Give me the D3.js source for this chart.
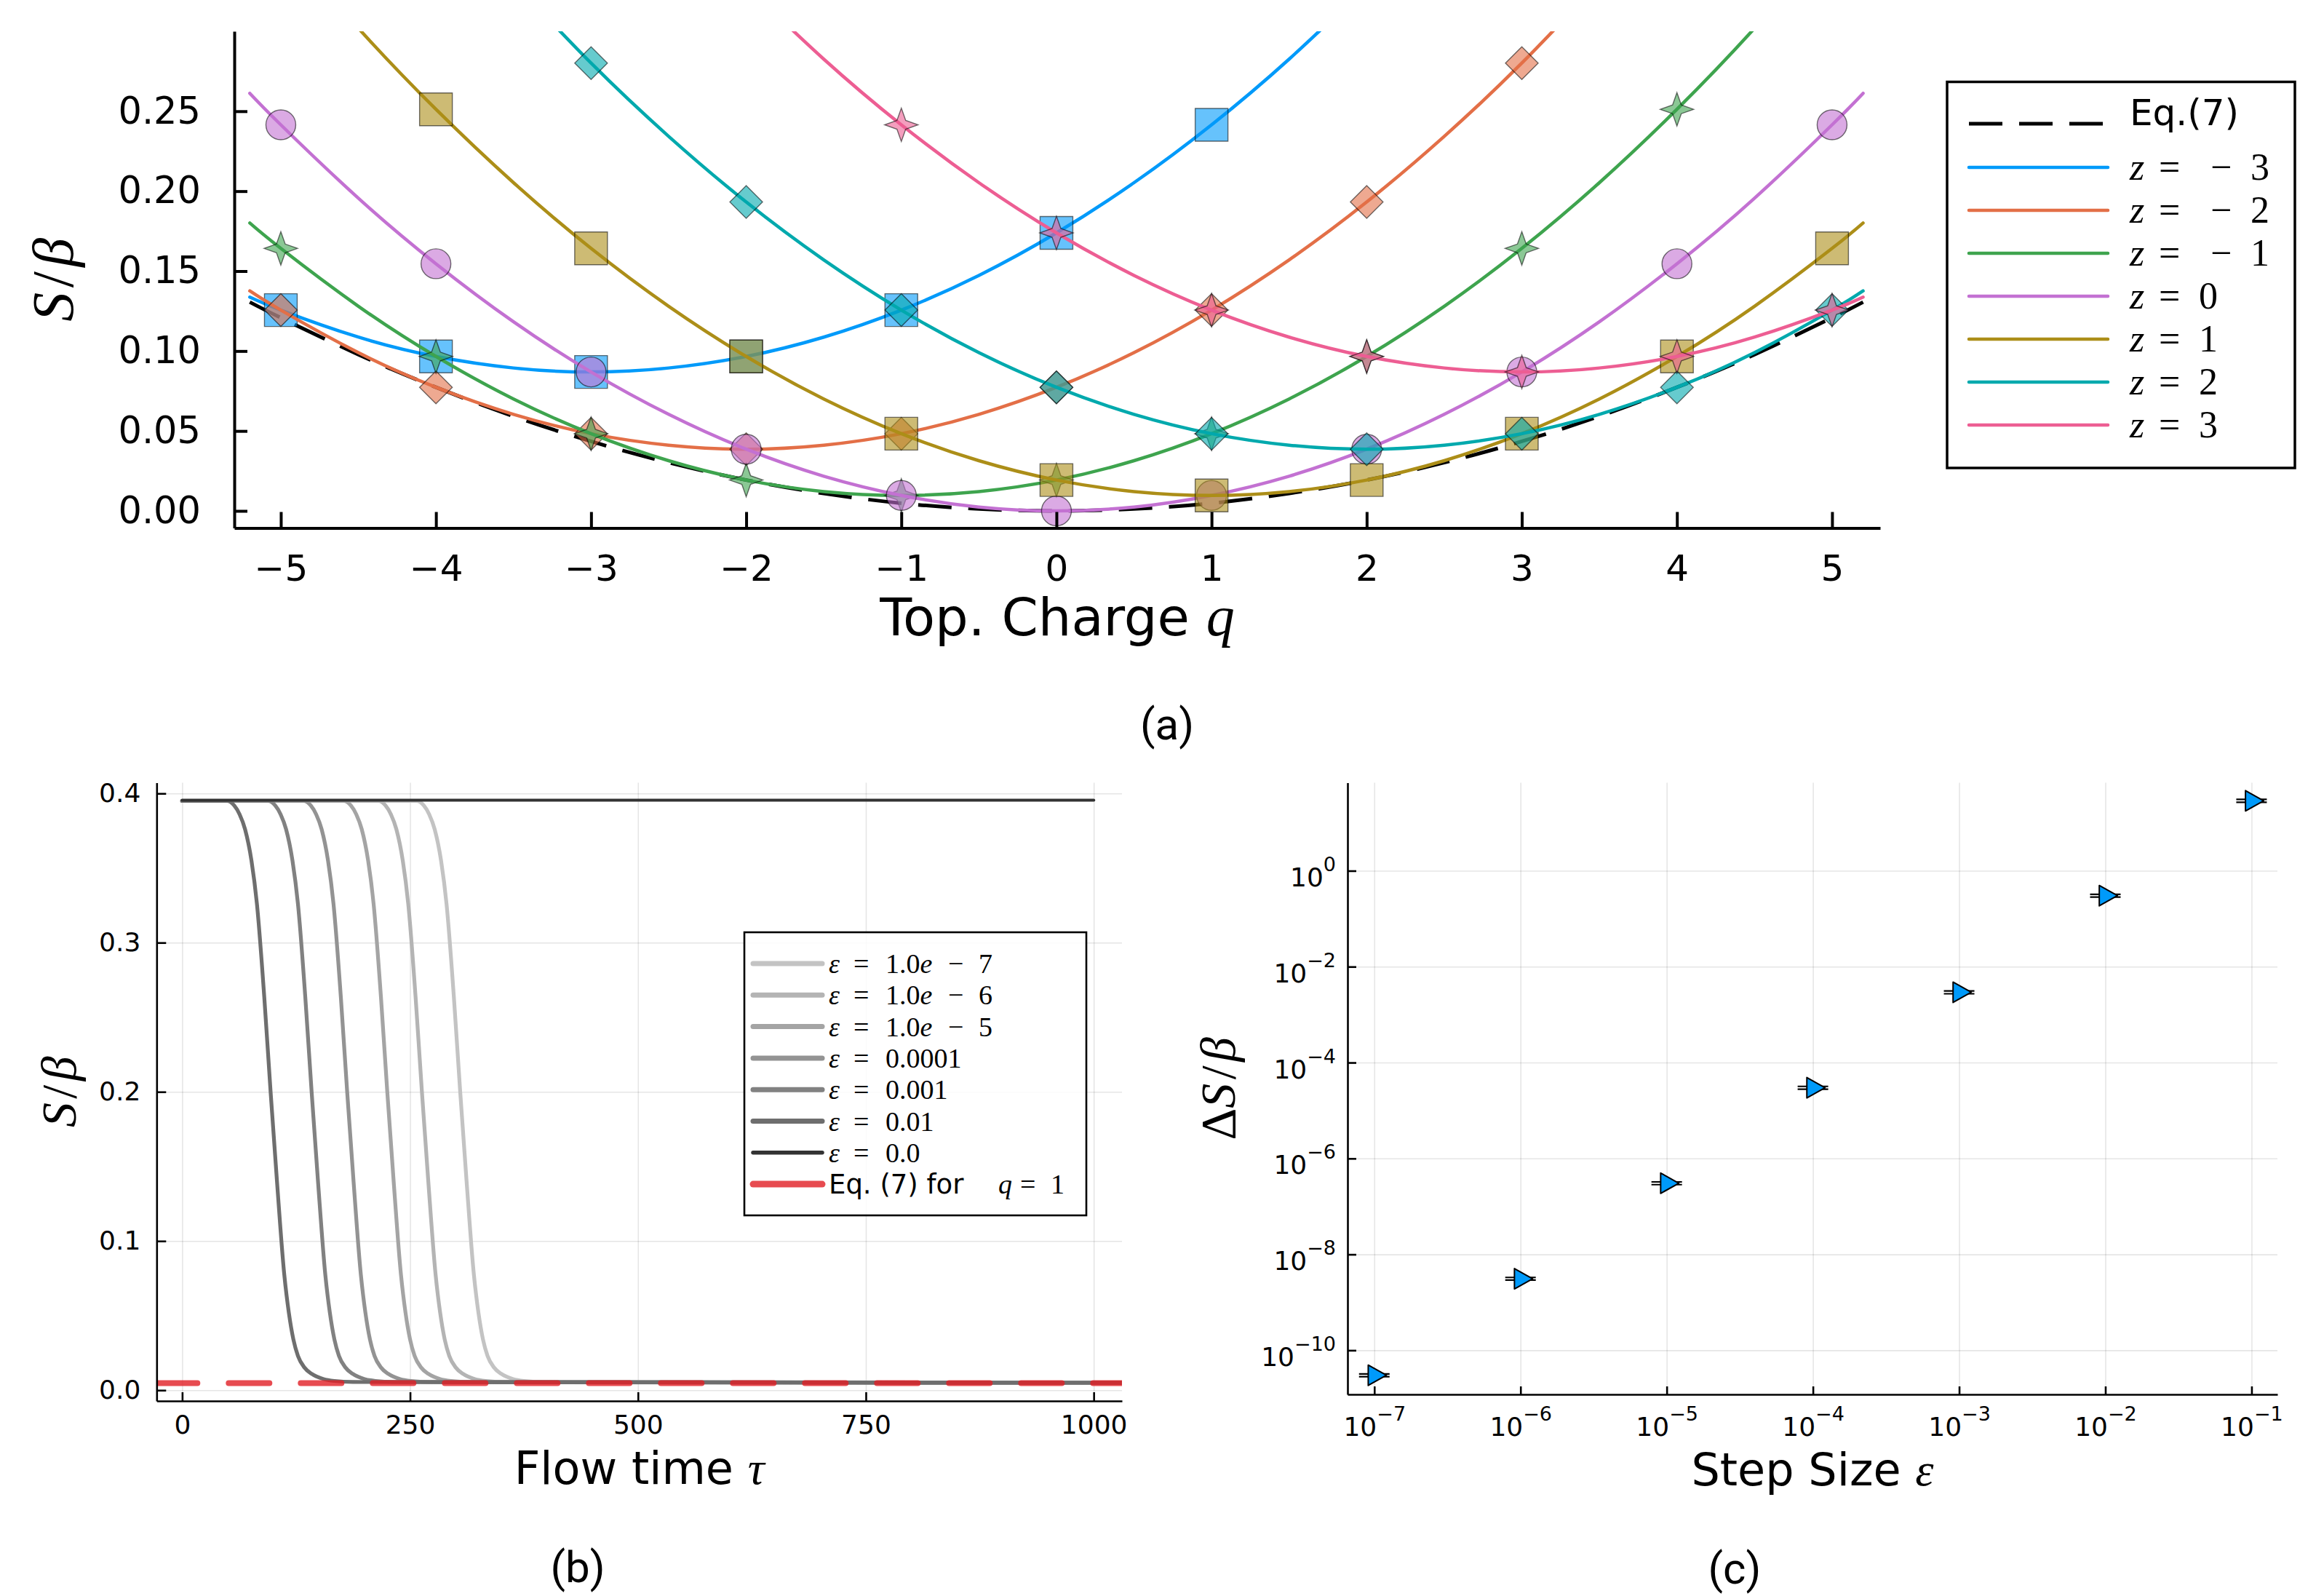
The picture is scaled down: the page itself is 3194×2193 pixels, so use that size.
<!DOCTYPE html>
<html>
<head>
<meta charset="utf-8">
<script src="https://cdn.jsdelivr.net/npm/d3@7/dist/d3.min.js"></script>
<style>
html,body{margin:0;padding:0;background:#fff;}
svg{display:block;}
</style>
</head>
<body>
<svg id="fig" width="3194" height="2193" xmlns="http://www.w3.org/2000/svg"></svg>
<script>
// ======================= DATA =======================
// ---- Panel (a): action vs topological charge ----
const qGrid   = [-5.2,-5,-4.5,-4,-3.5,-3,-2.5,-2,-1.5,-1,-0.5,0,0.5,1,1.5,2,2.5,3,3.5,4,4.5,5,5.2];
const eq7Line = [0.1306,0.1208,0.0978,0.0773,0.0592,0.0435,0.0302,0.0193,0.0109,0.0048,0.0012,0,0.0012,0.0048,0.0109,0.0193,0.0302,0.0435,0.0592,0.0773,0.0978,0.1208,0.1306];
const lineZm3 = [0.1337,0.1256,0.1087,0.0966,0.0894,0.0869,0.0894,0.0966,0.1087,0.1256,0.1473,0.1739,0.2053,0.2415,0.2826,0.3284,null,null,null,null,null,null,null];
const lineZm2 = [0.1376,0.1256,0.0990,0.0773,0.0604,0.0483,0.0411,0.0386,0.0411,0.0483,0.0604,0.0773,0.0990,0.1256,0.1570,0.1932,0.2343,0.2801,0.3309,null,null,null,null];
const lineZm1 = [0.1801,0.1642,0.1280,0.0966,0.0700,0.0483,0.0314,0.0193,0.0121,0.0097,0.0121,0.0193,0.0314,0.0483,0.0700,0.0966,0.1280,0.1642,0.2053,0.2512,0.3019,0.3574,null];
const lineZ0  = [0.2612,0.2415,0.1956,0.1546,0.1183,0.0869,0.0604,0.0386,0.0217,0.0097,0.0024,0,0.0024,0.0097,0.0217,0.0386,0.0604,0.0869,0.1183,0.1546,0.1956,0.2415,0.2612];
const lineZ1  = [null,0.3574,0.3019,0.2512,0.2053,0.1642,0.1280,0.0966,0.0700,0.0483,0.0314,0.0193,0.0121,0.0097,0.0121,0.0193,0.0314,0.0483,0.0700,0.0966,0.1280,0.1642,0.1801];
const lineZ2  = [null,null,null,null,0.3309,0.2801,0.2343,0.1932,0.1570,0.1256,0.0990,0.0773,0.0604,0.0483,0.0411,0.0386,0.0411,0.0483,0.0604,0.0773,0.0990,0.1256,0.1376];
const lineZ3  = [null,null,null,null,null,null,null,0.3284,0.2826,0.2415,0.2053,0.1739,0.1473,0.1256,0.1087,0.0966,0.0894,0.0869,0.0894,0.0966,0.1087,0.1256,0.1337];

const markQZm3 = [-5,-4,-3,-2,-1,0,1];
const markSZm3 = [0.1256,0.0966,0.0869,0.0966,0.1256,0.1739,0.2415];
const markQZm2 = [-5,-4,-3,-2,-1,0,1,2,3];
const markSZm2 = [0.1256,0.0773,0.0483,0.0386,0.0483,0.0773,0.1256,0.1932,0.2801];
const markQZm1 = [-5,-4,-3,-2,-1,0,1,2,3,4];
const markSZm1 = [0.1642,0.0966,0.0483,0.0193,0.0097,0.0193,0.0483,0.0966,0.1642,0.2512];
const markQZ0  = [-5,-4,-3,-2,-1,0,1,2,3,4,5];
const markSZ0  = [0.2415,0.1546,0.0869,0.0386,0.0097,0,0.0097,0.0386,0.0869,0.1546,0.2415];
const markQZ1  = [-4,-3,-2,-1,0,1,2,3,4,5];
const markSZ1  = [0.2512,0.1642,0.0966,0.0483,0.0193,0.0097,0.0193,0.0483,0.0966,0.1642];
const markQZ2  = [-3,-2,-1,0,1,2,3,4,5];
const markSZ2  = [0.2801,0.1932,0.1256,0.0773,0.0483,0.0386,0.0483,0.0773,0.1256];
const markQZ3  = [-1,0,1,2,3,4,5];
const markSZ3  = [0.2415,0.1739,0.1256,0.0966,0.0869,0.0966,0.1256];

const zValues = [-3,-2,-1,0,1,2,3];
const zColors = ['#009AFA','#E36F47','#3EA44E','#C371D2','#AC8E18','#00A9AD','#ED5E93'];
const zShapes = ['square','diamond','star4','circle','square','diamond','star4'];
const qTicks  = [-5,-4,-3,-2,-1,0,1,2,3,4,5];
const sTicksA = [0,0.05,0.10,0.15,0.20,0.25];

// ---- Panel (b): flow ----
const flowS    = [0.395,0.395,0.392,0.386,0.376,0.355,0.326,0.264,0.200,0.140,0.0775,0.052,0.034,0.023,0.0153,0.011,0.0075,0.0062,0.0055,0.005];
const tauEps7  = [0,257,265,271,277,284,290,298,305,312,320,325,330,335,342,350,363,375,395,1031];
const tauEps6  = [0,215,223,229,235,242,248,256,263,270,278,283,288,293,300,308,321,333,353,1031];
const tauEps5  = [0,177,185,191,197,204,210,218,225,232,240,245,250,255,262,270,283,295,315,1031];
const tauEps4  = [0,133,141,147,153,160,166,174,181,188,196,201,206,211,218,226,239,251,271,1031];
const tauEps3  = [0,94,102,108,114,121,127,135,142,149,157,162,167,172,179,187,200,212,232,1031];
const tauEps2  = [0,49,57,63,69,76,82,90,97,104,112,117,122,127,134,142,155,167,187,1031];
const tauEps0  = [0,1000];
const sEps0    = [0.3955,0.3955];
const eq7Q1    = 0.0048;
const epsLabels = ['1.0e-7','1.0e-6','1.0e-5','0.0001','0.001','0.01','0.0'];
const epsColors = ['#c3c3c3','#b4b4b4','#a4a4a4','#939393','#818181','#6e6e6e','#333333'];
const tauTicks = [0,250,500,750,1000];
const sTicksB  = [0,0.1,0.2,0.3,0.4];

// ---- Panel (c): error vs step size ----
const stepSizes = [1e-7,1e-6,1e-5,1e-4,1e-3,1e-2,1e-1];
const deltaS    = [3.02e-11,3.11e-9,3.05e-7,2.99e-5,2.92e-3,0.302,28.8];
const deltaSErr = [2e-12,2e-10,2e-8,2e-6,2e-4,0.02,2];
const yTicksC   = [1e0,1e-2,1e-4,1e-6,1e-8,1e-10];

// ======================= DRAWING =======================
const svg = d3.select('#fig');
const SANS  = "'DejaVu Sans', Verdana, sans-serif";
const SERIF = "'Liberation Serif', 'DejaVu Serif', serif";
const CAP   = "Roboto, 'DejaVu Sans', sans-serif";
const defs = svg.append('defs');

function styleAxis(g, fs, sw){
  g.attr('font-size', fs).attr('font-family', SANS);
  g.select('.domain').attr('stroke','#000').attr('stroke-width', sw);
  g.selectAll('.tick line').attr('stroke','#000').attr('stroke-width', sw);
  g.selectAll('.tick text').attr('fill','#000');
}
const minusFmt = d => d < 0 ? '\u2212' + Math.abs(d) : String(d);

// ---------------- Panel (a) ----------------
const A = {l:322, r:2584, t:43, b:725.5};
const xA = d3.scaleLinear().domain([-5.3, 5.31]).range([A.l, A.r]);
const yA = d3.scaleLinear().domain([-0.0107, 0.300]).range([A.b, A.t]);
defs.append('clipPath').attr('id','clipA').append('rect')
  .attr('x',A.l).attr('y',A.t).attr('width',A.r-A.l).attr('height',A.b-A.t);

const lineA = d3.line().defined(d => d[1] != null)
  .x(d => xA(d[0])).y(d => yA(d[1])).curve(d3.curveNatural);

const gA = svg.append('g');
gA.append('path').attr('clip-path','url(#clipA)')
  .datum(qGrid.map((q,i)=>[q, eq7Line[i]]))
  .attr('d', lineA).attr('fill','none').attr('stroke','#000')
  .attr('stroke-width',5).attr('stroke-dasharray','46 23');

const star4 = (R, i) => `M0,${-R}L${i},${-i}L${R},0L${i},${i}L0,${R}L${-i},${i}L${-R},0L${-i},${-i}Z`;
function markerPath(shape){
  if (shape === 'square')  return d3.symbol(d3.symbolSquare, 45*45)();
  if (shape === 'circle')  return d3.symbol(d3.symbolCircle, Math.PI*20.5*20.5)();
  if (shape === 'diamond') return 'M0,-22.5L22.5,0L0,22.5L-22.5,0Z';
  return star4(23, 6);
}
const zLines = [lineZm3,lineZm2,lineZm1,lineZ0,lineZ1,lineZ2,lineZ3];
const zMarkQ = [markQZm3,markQZm2,markQZm1,markQZ0,markQZ1,markQZ2,markQZ3];
const zMarkS = [markSZm3,markSZm2,markSZm1,markSZ0,markSZ1,markSZ2,markSZ3];

zValues.forEach((z, k) => {
  gA.append('path').attr('clip-path','url(#clipA)')
    .datum(qGrid.map((q,i)=>[q, zLines[k][i]]))
    .attr('d', lineA).attr('fill','none').attr('stroke', zColors[k])
    .attr('stroke-width',4.5).attr('stroke-linecap','round');
  const pts = zMarkQ[k].map((q,i)=>[q, zMarkS[k][i]]);
  gA.append('g').selectAll('path').data(pts).join('path')
    .attr('transform', d => `translate(${xA(d[0])},${yA(d[1])})`)
    .attr('d', markerPath(zShapes[k]))
    .attr('fill', zColors[k]).attr('fill-opacity',0.6)
    .attr('stroke','#000').attr('stroke-opacity',0.55).attr('stroke-width',1.4);
});

// axes (a)
const gAx = gA.append('g').attr('transform',`translate(0,${A.b})`)
  .call(d3.axisBottom(xA).tickValues(qTicks).tickSizeInner(-22).tickSizeOuter(0).tickPadding(37).tickFormat(minusFmt));
styleAxis(gAx, 50, 4);
const gAy = gA.append('g').attr('transform',`translate(${A.l},0)`)
  .call(d3.axisLeft(yA).tickValues(sTicksA).tickSizeInner(-18).tickSizeOuter(0).tickPadding(46).tickFormat(d=>d.toFixed(2)));
styleAxis(gAy, 51, 4);

// axis labels (a)
const xlabA = gA.append('text').attr('x',(A.l+A.r)/2).attr('y',873).attr('text-anchor','middle').attr('fill','#000');
xlabA.append('tspan').attr('font-family',SANS).attr('font-size',72).text('Top. Charge ');
xlabA.append('tspan').attr('font-family',SERIF).attr('font-style','italic').attr('font-size',78).text('q');

function sOverBeta(g, x, y, fs, withDelta){
  const t = g.append('text').attr('transform',`translate(${x},${y}) rotate(-90)`)
    .attr('text-anchor','middle').attr('font-family',SERIF).attr('font-size',fs).attr('fill','#000');
  if (withDelta) t.append('tspan').text('\u0394');
  t.append('tspan').attr('font-style','italic').text('S');
  t.append('tspan').attr('dx',fs*0.08).text('/');
  t.append('tspan').attr('dx',fs*0.08).attr('font-style','italic').text('\u03B2');
  return t;
}
sOverBeta(gA, 100, (A.t+A.b)/2, 80, false);

// legend (a)
const LA = {x:2676, y:112.5, w:478, h:530.5};
gA.append('rect').attr('x',LA.x).attr('y',LA.y).attr('width',LA.w).attr('height',LA.h)
  .attr('fill','#fff').attr('stroke','#000').attr('stroke-width',3.5);
const lx1 = 2706, lx2 = 2897, tx = 2927;
gA.append('line').attr('x1',lx1).attr('x2',lx2).attr('y1',170).attr('y2',170)
  .attr('stroke','#000').attr('stroke-width',5).attr('stroke-dasharray','46 23');
gA.append('text').attr('x',tx).attr('y',172).attr('font-family',SANS).attr('font-size',50).attr('fill','#000').text('Eq.(7)');
zValues.forEach((z,k) => {
  const yy = 230 + k*59;
  gA.append('line').attr('x1',lx1).attr('x2',lx2).attr('y1',yy).attr('y2',yy)
    .attr('stroke',zColors[k]).attr('stroke-width',4.5).attr('stroke-linecap','round');
  const t = gA.append('text').attr('y',yy + 17).attr('font-family',SERIF).attr('font-size',52).attr('fill','#000');
  t.append('tspan').attr('x',tx).attr('font-style','italic').text('z');
  t.append('tspan').attr('x',tx+40).text('=');
  if (z < 0){
    t.append('tspan').attr('x',tx+111).text('\u2212');
    t.append('tspan').attr('x',tx+166).text(String(-z));
  } else {
    t.append('tspan').attr('x',tx+95).text(String(z));
  }
});
gA.append('text').attr('x',1604).attr('y',1016).attr('text-anchor','middle')
  .attr('font-family',CAP).attr('font-size',60).attr('fill','#000').text('(a)');

// ---------------- Panel (b) ----------------
const B = {l:215.3, r:1542, t:1075.5, b:1925};
const xB = d3.scaleLinear().domain([-28, 1031]).range([B.l, B.r]);
const yB = d3.scaleLinear().domain([-0.0072, 0.4072]).range([B.b, B.t]);
defs.append('clipPath').attr('id','clipB').append('rect')
  .attr('x',B.l).attr('y',B.t).attr('width',B.r-B.l).attr('height',B.b-B.t);
const gB = svg.append('g');

function gridStyle(g){
  g.select('.domain').remove();
  g.selectAll('.tick text').remove();
  g.selectAll('.tick line').attr('stroke','#000').attr('stroke-opacity',0.1).attr('stroke-width',1.6);
}
gB.append('g').attr('transform',`translate(0,${B.b})`)
  .call(d3.axisBottom(xB).tickValues(tauTicks).tickSize(-(B.b-B.t)).tickFormat('')).call(gridStyle);
gB.append('g').attr('transform',`translate(${B.l},0)`)
  .call(d3.axisLeft(yB).tickValues(sTicksB).tickSize(-(B.r-B.l)).tickFormat('')).call(gridStyle);

const lineB = d3.line().x(d => xB(d[0])).y(d => yB(d[1])).curve(d3.curveMonotoneX);
const flowTaus = [tauEps7,tauEps6,tauEps5,tauEps4,tauEps3,tauEps2];
const plotB = gB.append('g').attr('clip-path','url(#clipB)');
flowTaus.forEach((taus,k) => {
  plotB.append('path').datum(taus.map((t,i)=>[t, flowS[i]]))
    .attr('d',lineB).attr('fill','none').attr('stroke',epsColors[k])
    .attr('stroke-width',5.2).attr('stroke-linecap','round').attr('stroke-linejoin','round');
});
plotB.append('path').datum(tauEps0.map((t,i)=>[t, sEps0[i]]))
  .attr('d',lineB).attr('fill','none').attr('stroke',epsColors[6])
  .attr('stroke-width',4.2).attr('stroke-linecap','round');
plotB.append('path').datum(xB.domain().map(t=>[t, eq7Q1]))
  .attr('d',lineB).attr('fill','none').attr('stroke','rgb(225,30,36)').attr('stroke-opacity',0.8)
  .attr('stroke-width',8).attr('stroke-linecap','round').attr('stroke-dasharray','56 43');

const gBx = gB.append('g').attr('transform',`translate(0,${B.b})`)
  .call(d3.axisBottom(xB).tickValues(tauTicks).tickSizeInner(-12).tickSizeOuter(0).tickPadding(19).tickFormat(d=>String(d)));
styleAxis(gBx, 36, 2.6);
const gBy = gB.append('g').attr('transform',`translate(${B.l},0)`)
  .call(d3.axisLeft(yB).tickValues(sTicksB).tickSizeInner(-13).tickSizeOuter(0).tickPadding(22).tickFormat(d=>d.toFixed(1)));
styleAxis(gBy, 36, 2.6);

const xlabB = gB.append('text').attr('x',(B.l+B.r)/2).attr('y',2039).attr('text-anchor','middle').attr('fill','#000');
xlabB.append('tspan').attr('font-family',SANS).attr('font-size',62).text('Flow time ');
xlabB.append('tspan').attr('font-family',SERIF).attr('font-style','italic').attr('font-size',64).text('\u03C4');
sOverBeta(gB, 104, (B.t+B.b)/2, 68, false);
gB.append('text').attr('x',794).attr('y',2174).attr('text-anchor','middle')
  .attr('font-family',CAP).attr('font-size',60).attr('fill','#000').text('(b)');

// legend (b)
const LB = {x:1023, y:1281, w:470, h:389};
gB.append('rect').attr('x',LB.x).attr('y',LB.y).attr('width',LB.w).attr('height',LB.h)
  .attr('fill','#fff').attr('fill-opacity',0.85).attr('stroke','#000').attr('stroke-width',2.6);
const bl1 = 1035, bl2 = 1130, btx = 1139;
epsLabels.forEach((lab,k) => {
  const yy = 1324 + k*43.3;
  gB.append('line').attr('x1',bl1).attr('x2',bl2).attr('y1',yy).attr('y2',yy)
    .attr('stroke',epsColors[k]).attr('stroke-width', k===6 ? 5.5 : 7).attr('stroke-linecap','round');
  const t = gB.append('text').attr('y', yy + 13).attr('font-family',SERIF).attr('font-size',38).attr('fill','#000');
  t.append('tspan').attr('x',btx).attr('font-style','italic').text('\u03B5');
  t.append('tspan').attr('x',btx+34).text('=');
  if (lab.indexOf('e') >= 0){
    const parts = lab.split('e');
    t.append('tspan').attr('x',btx+78).text(parts[0]);
    t.append('tspan').attr('font-style','italic').text('e');
    t.append('tspan').attr('x',btx+164).text('\u2212');
    t.append('tspan').attr('x',btx+206).text(parts[1].replace('-',''));
  } else {
    t.append('tspan').attr('x',btx+78).text(lab);
  }
});
{
  const yy = 1324 + 7*43.3;
  gB.append('line').attr('x1',bl1).attr('x2',bl2).attr('y1',yy).attr('y2',yy)
    .attr('stroke','rgb(225,30,36)').attr('stroke-opacity',0.8).attr('stroke-width',9).attr('stroke-linecap','round');
  const t = gB.append('text').attr('y', yy + 13).attr('font-size',37).attr('fill','#000');
  t.append('tspan').attr('x',btx).attr('font-family',SANS).text('Eq. (7) for');
  t.append('tspan').attr('x',1372).attr('font-family',SERIF).attr('font-style','italic').attr('font-size',38).text('q');
  t.append('tspan').attr('x',1402).attr('font-family',SERIF).attr('font-size',38).text('=');
  t.append('tspan').attr('x',1444).attr('font-family',SERIF).attr('font-size',38).text('1');
}

// ---------------- Panel (c) ----------------
const C = {l:1852, r:3130, t:1075.5, b:1916};
const xC = d3.scaleLog().domain([Math.pow(10,-7.183), Math.pow(10,-0.823)]).range([C.l, C.r]);
const yC = d3.scaleLog().domain([Math.pow(10,-10.92), Math.pow(10,1.836)]).range([C.b, C.t]);
const gC = svg.append('g');
gC.append('g').attr('transform',`translate(0,${C.b})`)
  .call(d3.axisBottom(xC).tickValues(stepSizes).tickSize(-(C.b-C.t)).tickFormat('')).call(gridStyle);
gC.append('g').attr('transform',`translate(${C.l},0)`)
  .call(d3.axisLeft(yC).tickValues(yTicksC).tickSize(-(C.r-C.l)).tickFormat('')).call(gridStyle);

const pts = stepSizes.map((e,i)=>({e, v:deltaS[i], err:deltaSErr[i]}));
const capG = gC.append('g').attr('stroke','#000').attr('stroke-width',2.2);
pts.forEach(p => {
  [p.v + p.err, p.v - p.err].forEach(val => {
    capG.append('line').attr('x1',xC(p.e)-21).attr('x2',xC(p.e)+21)
      .attr('y1',yC(val)).attr('y2',yC(val));
  });
  capG.append('line').attr('x1',xC(p.e)).attr('x2',xC(p.e))
    .attr('y1',yC(p.v + p.err)).attr('y2',yC(p.v - p.err));
});
const triW = 25, triH = 28;
gC.append('g').selectAll('path').data(pts).join('path')
  .attr('transform', d => `translate(${xC(d.e)},${yC(d.v)})`)
  .attr('d', `M${-triW/3},${-triH/2}L${2*triW/3},0L${-triW/3},${triH/2}Z`)
  .attr('fill','#009AFA').attr('stroke','#000').attr('stroke-width',2).attr('stroke-linejoin','round');

function expLabel(sel, supDy){
  sel.each(function(d){
    const e = Math.round(Math.log10(d));
    const t = d3.select(this);
    t.text(null);
    t.append('tspan').text('10');
    t.append('tspan').attr('dy',supDy).attr('font-size',27).text(e < 0 ? '\u2212' + (-e) : String(e));
  });
}
const gCx = gC.append('g').attr('transform',`translate(0,${C.b})`)
  .call(d3.axisBottom(xC).tickValues(stepSizes).tickSizeInner(-11).tickSizeOuter(0).tickPadding(31).tickFormat(d=>String(d)));
styleAxis(gCx, 36, 2.6);
gCx.selectAll('.tick text').call(expLabel, -21);
const gCy = gC.append('g').attr('transform',`translate(${C.l},0)`)
  .call(d3.axisLeft(yC).tickValues(yTicksC).tickSizeInner(-12).tickSizeOuter(0).tickPadding(16).tickFormat(d=>String(d)));
styleAxis(gCy, 36, 2.6);
gCy.selectAll('.tick text').attr('dy', 21).call(expLabel, -21);

const xlabC = gC.append('text').attr('x',(C.l+C.r)/2).attr('y',2041).attr('text-anchor','middle').attr('fill','#000');
xlabC.append('tspan').attr('font-family',SANS).attr('font-size',62).text('Step Size ');
xlabC.append('tspan').attr('font-family',SERIF).attr('font-style','italic').attr('font-size',64).text('\u03B5');
sOverBeta(gC, 1697, (C.t+C.b)/2, 68, true);
gC.append('text').attr('x',2384).attr('y',2176).attr('text-anchor','middle')
  .attr('font-family',CAP).attr('font-size',60).attr('fill','#000').text('(c)');
</script>
</body>
</html>
